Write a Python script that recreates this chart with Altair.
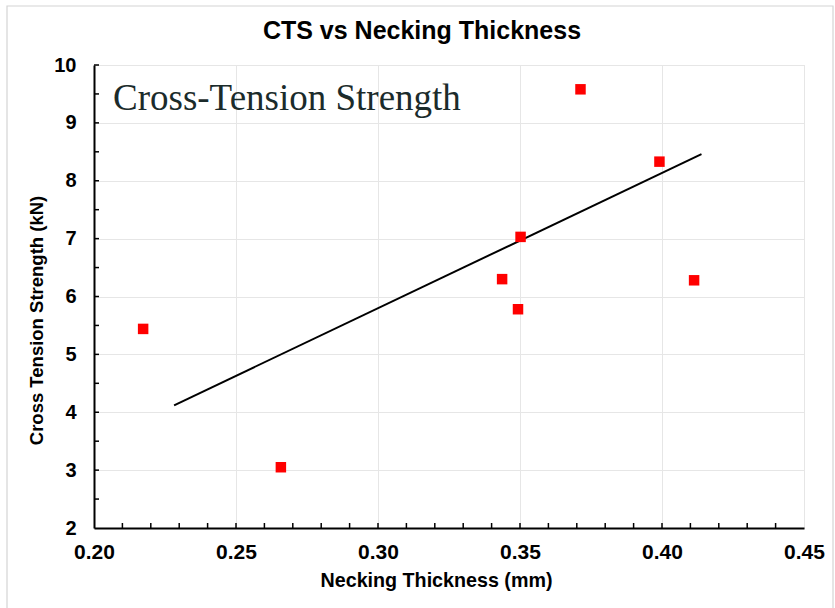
import altair as alt
import pandas as pd

# Measured specimens: necking thickness (mm) vs cross-tension strength (kN)
thickness = [0.2173, 0.2658, 0.3437, 0.3493, 0.3502, 0.3713, 0.3991, 0.4113]
cts = [5.44, 3.05, 6.30, 5.78, 7.03, 9.58, 8.33, 6.28]

# Trend line end points
fit_thickness = [0.2282, 0.4139]
fit_cts = [4.12, 8.46]

# Axis tick positions
x_major = [0.20, 0.25, 0.30, 0.35, 0.40, 0.45]
x_minor = [0.21, 0.22, 0.23, 0.24, 0.25, 0.26, 0.27, 0.28, 0.29, 0.30,
           0.31, 0.32, 0.33, 0.34, 0.35, 0.36, 0.37, 0.38, 0.39, 0.40,
           0.41, 0.42, 0.43, 0.44]
y_major = [2, 3, 4, 5, 6, 7, 8, 9, 10]
y_minor = [2.5, 3, 3.5, 4, 4.5, 5, 5.5, 6, 6.5, 7, 7.5, 8, 8.5, 9, 9.5, 10]

FONT = "Liberation Sans"
W, H = 710, 463

points = pd.DataFrame({"thickness": thickness, "cts": cts})
fit = pd.DataFrame({"thickness": fit_thickness, "cts": fit_cts})
xticks = pd.DataFrame({"thickness": x_minor})
yticks = pd.DataFrame({"cts": y_minor})

x_scale = alt.Scale(domain=[0.20, 0.45], nice=False, zero=False)
y_scale = alt.Scale(domain=[2, 10], nice=False, zero=False)

x_axis = alt.Axis(
    values=x_major, format=".2f", ticks=False, labelFlush=False,
    domain=True, domainColor="black", domainWidth=2,
    grid=True, gridColor="#e6e6e6", gridWidth=1,
    labelFont=FONT, labelFontSize=21, labelFontWeight="bold", labelColor="black",
    labelPadding=13,
    title="Necking Thickness (mm)", titleFont=FONT, titleFontSize=19.7,
    titleFontWeight="bold", titleColor="black",
    titleX=342, titleY=52, titleAlign="center", titleBaseline="middle",
)
y_axis = alt.Axis(
    values=y_major, format="d", ticks=False, labelFlush=False,
    domain=True, domainColor="black", domainWidth=2,
    grid=True, gridColor="#e6e6e6", gridWidth=1,
    labelFont=FONT, labelFontSize=20, labelFontWeight="bold", labelColor="black",
    labelPadding=18,
    title="Cross Tension Strength (kN)", titleFont=FONT, titleFontSize=18.5,
    titleFontWeight="bold", titleColor="black", titleAngle=270,
    titleX=-58, titleY=255, titleAlign="center", titleBaseline="middle",
)

# Thin light frame around the whole figure
frame = alt.Chart(pd.DataFrame({"f": [0]})).mark_rect(
    fill=None, stroke="#d4d4d4", strokeWidth=1.2
).encode(
    x=alt.value(-87), x2=alt.value(739),
    y=alt.value(-59), y2=alt.value(H + 90),
)

scatter = alt.Chart(points).mark_square(size=110, color="#ff0000", opacity=1).encode(
    x=alt.X("thickness:Q", scale=x_scale, axis=x_axis),
    y=alt.Y("cts:Q", scale=y_scale, axis=y_axis),
)

trend = alt.Chart(fit).mark_line(color="black", strokeWidth=2).encode(
    x=alt.X("thickness:Q", scale=x_scale),
    y=alt.Y("cts:Q", scale=y_scale),
)

# Inward-pointing tick marks along both axes
x_tick_marks = alt.Chart(xticks).mark_rule(color="black", strokeWidth=1.5).encode(
    x=alt.X("thickness:Q", scale=x_scale),
    y=alt.value(H),
    y2=alt.value(H - 5),
)
y_tick_marks = alt.Chart(yticks).mark_rule(color="black", strokeWidth=1.5).encode(
    y=alt.Y("cts:Q", scale=y_scale),
    x=alt.value(0),
    x2=alt.value(5),
)

label = alt.Chart(pd.DataFrame({"text": ["Cross-Tension Strength"]})).mark_text(
    font="Liberation Serif", fontSize=37, color="#1b2b2b",
    align="left", baseline="alphabetic",
).encode(text="text:N", x=alt.value(19), y=alt.value(45))

chart = alt.layer(frame, trend, scatter, x_tick_marks, y_tick_marks, label).properties(
    width=W,
    height=H,
    autosize=alt.AutoSizeParams(type="none"),
    padding={"left": 94, "top": 65, "right": 31, "bottom": 80},
    title=alt.Title(
        "CTS vs Necking Thickness", font=FONT, fontSize=25, fontWeight="bold",
        color="black", anchor="middle", dx=-27, dy=77, offset=18,
        baseline="alphabetic",
    ),
).configure_view(
    stroke="#a6a6a6", strokeWidth=1.5
).configure(background="white")

chart.save("out.html", embed_options={"renderer": "svg", "actions": False})
